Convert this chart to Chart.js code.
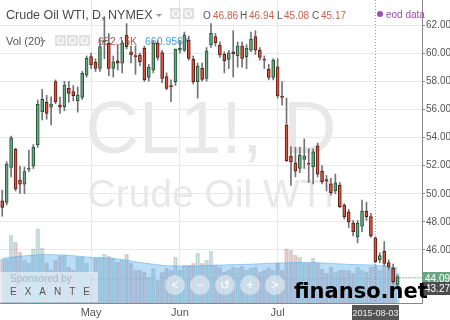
<!DOCTYPE html>
<html>
<head>
<meta charset="utf-8">
<script src="https://cdn.jsdelivr.net/npm/chart.js@4.4.0/dist/chart.umd.min.js"></script>
<style>
html, body { margin: 0; padding: 0; background: #fff; }
#c { display: block; }
</style>
</head>
<body>
<canvas id="c" width="450" height="320"></canvas>
<script>
// trading days, 2015
const aprDays = [2, 6, 7, 8, 9, 10, 13, 14, 15, 16, 17, 20, 21, 22, 23, 24, 27, 28, 29, 30];
const mayDays = [1, 4, 5, 6, 7, 8, 11, 12, 13, 14, 15, 18, 19, 20, 21, 22, 26, 27, 28, 29];
const junDays = [1, 2, 3, 4, 5, 8, 9, 10, 11, 12, 15, 16, 17, 18, 19, 22, 23, 24, 25, 26, 29, 30];
const julDays = [1, 2, 6, 7, 8, 9, 10, 13, 14, 15, 16, 17, 20, 21, 22, 23, 24, 27, 28, 29, 30, 31];
const augDays = [3, 4, 5, 6, 7, 10];
const futureDays = [11, 12, 13, 14, 17]; // empty space right of last bar

const opens = [
    49.50, 49.39, 51.88, 53.16, 50.97, 50.69, 51.74, 51.97, 53.47, 55.83,
    56.50, 56.15, 57.97, 56.30, 56.19, 57.50, 57.26, 56.62, 56.86, 58.44,
    59.75, 59.35, 58.92, 60.80, 60.70, 58.92, 59.46, 59.28, 61.29, 60.10,
    59.80, 59.87, 60.34, 58.28, 58.80, 60.74, 60.04, 58.33, 57.70, 57.97,
    60.22, 60.22, 60.93, 59.56, 57.97, 58.92, 58.20, 60.58, 61.17, 60.58,
    59.92, 59.56, 60.10, 59.80, 60.50, 59.75, 60.22, 61.17, 60.22, 59.55,
    58.85, 58.28, 59.03, 56.90, 54.89, 52.68, 52.20, 51.80, 52.45, 52.14,
    51.92, 53.40, 51.60, 51.00, 50.70, 50.21, 50.62, 49.20, 48.72, 47.94,
    46.94, 47.70, 48.77, 48.37, 46.86, 45.30, 45.90, 45.10, 44.70, 43.55
];
const highs = [
    50.25, 52.28, 54.10, 53.25, 51.97, 51.90, 53.10, 53.50, 56.67, 57.43,
    57.00, 56.90, 58.10, 56.87, 58.00, 58.00, 57.70, 57.60, 58.70, 59.80,
    60.00, 59.60, 61.00, 62.60, 61.40, 59.80, 60.60, 60.90, 62.10, 60.50,
    60.50, 60.00, 60.50, 59.20, 60.90, 60.90, 60.20, 58.60, 58.10, 60.30,
    60.90, 61.50, 61.20, 59.80, 59.30, 59.30, 60.40, 62.10, 61.40, 60.80,
    60.10, 60.20, 61.60, 60.80, 60.80, 60.60, 61.50, 61.60, 60.40, 59.80,
    59.20, 59.60, 59.60, 57.97, 56.80, 53.35, 53.30, 53.30, 53.90, 53.20,
    53.20, 53.60, 52.00, 51.30, 51.10, 51.40, 50.80, 49.30, 48.90, 48.10,
    48.10, 49.55, 49.40, 48.60, 46.94, 45.80, 46.60, 45.30, 45.00, 44.20
];
const lows = [
    48.40, 49.20, 51.20, 50.20, 50.03, 50.00, 51.57, 51.80, 53.30, 55.24,
    55.30, 54.90, 56.40, 55.72, 55.90, 56.50, 56.60, 55.80, 56.70, 58.30,
    58.90, 58.70, 58.70, 59.60, 58.40, 58.30, 58.80, 58.60, 60.30, 59.30,
    58.50, 59.10, 58.00, 58.00, 58.60, 59.50, 57.90, 57.40, 56.55, 57.70,
    60.00, 60.10, 59.50, 57.80, 56.80, 58.00, 58.00, 60.40, 60.50, 59.70,
    58.60, 58.90, 58.30, 59.00, 59.00, 58.90, 60.10, 59.90, 59.50, 58.90,
    58.10, 58.10, 56.80, 56.30, 52.30, 50.60, 51.20, 51.50, 51.80, 50.80,
    50.70, 51.20, 50.70, 50.20, 49.90, 50.00, 49.00, 48.20, 47.60, 47.00,
    46.50, 47.30, 48.10, 46.90, 45.08, 45.10, 44.90, 44.60, 43.60, 43.40
];
const closes = [
    49.03, 52.11, 53.98, 50.34, 50.69, 51.57, 51.80, 53.30, 56.36, 56.72,
    55.72, 56.38, 56.55, 56.15, 57.73, 57.14, 56.97, 57.02, 58.56, 59.63,
    59.16, 58.92, 60.46, 60.90, 58.92, 59.39, 59.28, 60.74, 60.46, 59.90,
    59.75, 59.40, 58.09, 58.99, 60.70, 59.70, 58.20, 57.50, 57.62, 60.27,
    60.34, 61.29, 59.63, 57.97, 59.08, 58.14, 60.17, 61.41, 60.74, 59.87,
    59.46, 60.03, 59.94, 60.50, 59.63, 60.34, 60.98, 60.22, 59.70, 59.50,
    58.28, 59.51, 56.95, 56.85, 52.35, 52.27, 51.60, 52.75, 52.68, 52.10,
    52.99, 51.40, 50.85, 50.90, 50.07, 50.78, 49.08, 48.37, 48.00, 47.30,
    47.90, 48.77, 48.37, 47.00, 45.17, 45.60, 45.05, 44.77, 43.74, 44.09
];
// volume in thousands of contracts, with its 20-day average
const volumes = [
    766, 766, 1183, 1061, 887, 748, 696, 940, 1288, 957,
    696, 574, 748, 818, 835, 626, 574, 800, 800, 696,
    522, 783, 800, 853, 818, 783, 713, 748, 853, 696,
    574, 574, 539, 452, 609, 400, 539, 609, 574, 800,
    574, 661, 661, 696, 870, 696, 748, 905, 661, 626,
    539, 574, 626, 609, 644, 574, 609, 626, 539, 574,
    609, 574, 696, 574, 940, 922, 835, 800, 696, 696,
    783, 696, 592, 522, 626, 539, 574, 574, 574, 522,
    626, 574, 539, 626, 652.15, 574, 661, 574, 626, 522
];
const volumeMA = [
    780, 785, 795, 805, 815, 820, 825, 830, 840, 845,
    845, 840, 838, 835, 832, 828, 822, 815, 808, 800,
    795, 790, 785, 782, 780, 775, 765, 755, 745, 730,
    718, 705, 695, 685, 675, 665, 655, 650, 647, 645,
    643, 642, 642, 643, 645, 648, 652, 655, 658, 660,
    662, 664, 666, 668, 670, 672, 675, 678, 682, 686,
    690, 693, 695, 697, 700, 702, 704, 705, 705, 704,
    703, 700, 696, 692, 688, 684, 680, 676, 672, 669,
    667, 665, 663, 662, 660.956, 650, 640, 630, 620, 610
];
const priceTicks = [44, 46, 48, 50, 52, 54, 56, 58, 60, 62];
const monthTicks = { '2015-05-01': 'May', '2015-06-01': 'Jun', '2015-07-01': 'Jul' };
const crosshairDate = '2015-08-03';
const crosshairPrice = 43.27;

const pad = d => String(d).padStart(2, '0');
const dates = [].concat(
    aprDays.map(d => '2015-04-' + pad(d)),
    mayDays.map(d => '2015-05-' + pad(d)),
    junDays.map(d => '2015-06-' + pad(d)),
    julDays.map(d => '2015-07-' + pad(d)),
    augDays.map(d => '2015-08-' + pad(d))
);
const axisDates = dates.concat(futureDays.map(d => '2015-08-' + pad(d)));

const UP = '#6ba583', UP_LINE = '#225437', DOWN = '#d75442', DOWN_LINE = '#5b1a13', WICK = '#737375';
const isUp = i => closes[i] >= opens[i];
const FONT = '"Liberation Sans", Arial, sans-serif';

function fmt(v) { return v.toFixed(2); }

const decor = {
    id: 'decor',
    beforeDraw(chart) {
        const ctx = chart.ctx, a = chart.chartArea;
        const cx = (a.left + a.right) / 2;
        ctx.save();
        ctx.fillStyle = '#fff';
        ctx.fillRect(0, 0, chart.width, chart.height);
        // symbol watermark
        ctx.fillStyle = '#e8e8e8';
        ctx.textAlign = 'center';
        ctx.font = '74px ' + FONT;
        ctx.fillText('CL1!, D', cx, 153);
        ctx.font = '39px ' + FONT;
        ctx.fillText('Crude Oil WTI', cx, 207);
        ctx.restore();
    },
    beforeDatasetsDraw(chart) {
        const ctx = chart.ctx, a = chart.chartArea;
        const x = chart.scales.x;
        const k = dates.indexOf(crosshairDate);
        ctx.save();
        // header
        ctx.textAlign = 'left';
        ctx.font = '12.5px ' + FONT;
        ctx.fillStyle = '#4a4a4a';
        ctx.fillText('Crude Oil WTI, D, NYMEX', 6, 19);
        caret(ctx, 159, 15);
        boxes(ctx, [170, 183], 8);
        const ohlc = [['O', opens[k], 203, 213], ['H', highs[k], 240, 249], ['L', lows[k], 277, 284], ['C', closes[k], 312, 321]];
        ctx.font = '10px ' + FONT;
        ohlc.forEach(([l, v, lx, vx]) => {
            ctx.fillStyle = '#555';
            ctx.fillText(l, lx, 19);
            ctx.fillStyle = closes[k] >= opens[k] ? UP : '#c95f4f';
            ctx.fillText(fmt(v), vx, 19);
        });
        ctx.font = '11px ' + FONT;
        ctx.fillStyle = '#555';
        ctx.fillText('Vol (20)', 6, 45);
        caret(ctx, 43, 41);
        boxes(ctx, [55, 67, 79], 35);
        ctx.font = '10.5px ' + FONT;
        ctx.fillStyle = '#b5544c';
        ctx.fillText(volumes[k].toFixed(2) + 'K', 98, 45);
        ctx.fillStyle = '#4aa3df';
        ctx.fillText(volumeMA[k].toFixed(3) + 'K', 145, 45);
        // crosshair
        const cxp = Math.round(x.getPixelForValue(k)) + 0.5;
        ctx.strokeStyle = '#9a9a9a';
        ctx.setLineDash([1, 2]);
        ctx.lineWidth = 1;
        ctx.beginPath();
        ctx.moveTo(cxp, a.top);
        ctx.lineTo(cxp, a.bottom);
        ctx.stroke();
        ctx.setLineDash([]);
        // data source tag
        ctx.fillStyle = '#9b4fb0';
        ctx.beginPath();
        ctx.arc(380, 14, 3, 0, Math.PI * 2);
        ctx.fill();
        ctx.font = '10px ' + FONT;
        ctx.fillText('eod data', 386, 18);
        ctx.restore();
    },
    afterDraw(chart) {
        const ctx = chart.ctx, a = chart.chartArea;
        const x = chart.scales.x, y = chart.scales.y;
        const last = closes.length - 1;
        const k = dates.indexOf(crosshairDate);
        ctx.save();
        // last price line and label
        const ly = Math.round(y.getPixelForValue(closes[last])) + 0.5;
        ctx.strokeStyle = UP;
        ctx.setLineDash([1, 2]);
        ctx.beginPath();
        ctx.moveTo(x.getPixelForValue(last) + 2, ly);
        ctx.lineTo(a.right, ly);
        ctx.stroke();
        ctx.setLineDash([]);
        axisTag(ctx, a.right, ly, fmt(closes[last]), isUp(last) ? UP : DOWN);
        axisTag(ctx, a.right, y.getPixelForValue(crosshairPrice), fmt(crosshairPrice), '#4d4d4d');
        // crosshair date
        const dx = Math.round(x.getPixelForValue(k));
        ctx.fillStyle = '#555';
        ctx.fillRect(dx - 23, a.bottom + 2, 47, 15);
        ctx.fillStyle = '#eee';
        ctx.font = '9px ' + FONT;
        ctx.textAlign = 'center';
        ctx.fillText(crosshairDate, dx + 0.5, a.bottom + 13);
        // sponsor box
        ctx.fillStyle = 'rgba(255,255,255,0.55)';
        ctx.fillRect(0, 272, 98, 30);
        ctx.textAlign = 'left';
        ctx.fillStyle = '#a9b5c0';
        ctx.font = '10px ' + FONT;
        ctx.fillText('Sponsored by', 10, 282);
        ctx.fillStyle = '#555';
        ctx.letterSpacing = '8px';
        ctx.fillText('EXANTE', 10, 295);
        ctx.letterSpacing = '0px';
        // navigation buttons
        ['<', '−', '↺', '+', '>'].forEach((g, i) => {
            const bx = 175 + i * 25, by = 285;
            ctx.fillStyle = 'rgba(236,238,241,0.6)';
            ctx.beginPath();
            ctx.arc(bx, by, 10, 0, Math.PI * 2);
            ctx.fill();
            ctx.fillStyle = '#fff';
            ctx.font = '12px ' + FONT;
            ctx.textAlign = 'center';
            ctx.fillText(g, bx, by + 4);
        });
        // site stamp
        ctx.textAlign = 'left';
        ctx.font = 'bold 21px "DejaVu Sans", sans-serif';
        ctx.fillStyle = '#000';
        ctx.fillText('finanso.net', 294, 298);
        ctx.restore();
    }
};

function caret(ctx, x, y) {
    ctx.fillStyle = '#999';
    ctx.beginPath();
    ctx.moveTo(x - 3, y - 1);
    ctx.lineTo(x + 3, y - 1);
    ctx.lineTo(x, y + 2);
    ctx.fill();
}

function boxes(ctx, xs, y) {
    xs.forEach(bx => {
        ctx.fillStyle = '#e0e0e0';
        ctx.fillRect(bx, y, 11, 11);
        ctx.strokeStyle = '#fff';
        ctx.lineWidth = 1.2;
        ctx.beginPath();
        ctx.arc(bx + 5.5, y + 5.5, 3, 0, Math.PI * 2);
        ctx.stroke();
    });
}

function axisTag(ctx, x, yc, text, bg) {
    ctx.fillStyle = bg;
    ctx.fillRect(x, Math.round(yc) - 6, 28, 13);
    ctx.fillStyle = '#fff';
    ctx.font = '10px ' + FONT;
    ctx.textAlign = 'left';
    ctx.fillText(text, x + 3, Math.round(yc) + 4);
}

new Chart(document.getElementById('c'), {
    type: 'bar',
    data: {
        labels: axisDates,
        datasets: [{
            type: 'bar',
            label: 'Body',
            data: opens.map((o, i) => [o, closes[i]]),
            backgroundColor: opens.map((o, i) => isUp(i) ? UP : DOWN),
            borderColor: opens.map((o, i) => isUp(i) ? UP_LINE : DOWN_LINE),
            borderWidth: 1,
            borderSkipped: false,
            barThickness: 3,
            minBarLength: 1,
            grouped: false,
            yAxisID: 'y',
            order: 0
        }, {
            type: 'bar',
            label: 'Wick',
            data: lows.map((l, i) => [l, highs[i]]),
            backgroundColor: WICK,
            barThickness: 1,
            grouped: false,
            yAxisID: 'y',
            order: 1
        }, {
            type: 'line',
            label: 'Vol MA',
            data: volumeMA,
            borderColor: 'rgba(75,165,235,0.5)',
            backgroundColor: 'rgba(75,165,235,0.38)',
            borderWidth: 1,
            pointRadius: 0,
            fill: 'start',
            yAxisID: 'yv',
            order: 2
        }, {
            type: 'bar',
            label: 'Volume',
            data: volumes,
            backgroundColor: volumes.map((v, i) => isUp(i) ? 'rgba(107,165,131,0.28)' : 'rgba(215,84,66,0.28)'),
            borderColor: 'rgba(60,110,150,0.22)',
            borderWidth: 1,
            borderSkipped: 'start',
            barThickness: 4,
            grouped: false,
            yAxisID: 'yv',
            order: 3
        }]
    },
    options: {
        responsive: false,
        devicePixelRatio: 1,
        animation: false,
        layout: { padding: 0 },
        plugins: { legend: { display: false }, tooltip: { enabled: false } },
        scales: {
            x: {
                type: 'category',
                offset: true,
                grid: { offset: false, color: '#e6e6e6', drawTicks: false },
                border: { color: '#888' },
                ticks: {
                    autoSkip: false,
                    maxRotation: 0,
                    padding: 3,
                    color: '#555',
                    font: { size: 11, family: FONT },
                    callback(v) { return monthTicks[this.getLabelForValue(v)] || ''; }
                },
                afterBuildTicks(s) { s.ticks = s.ticks.filter(t => monthTicks[axisDates[t.value]]); },
                afterFit(s) { s.height = 17; s.paddingLeft = 0; s.paddingRight = 0; }
            },
            y: {
                position: 'right',
                min: 42.23,
                max: 63.78,
                grid: { color: '#e9e9e9', tickLength: 3, tickColor: '#888' },
                border: { color: '#888' },
                ticks: {
                    padding: 1,
                    color: '#555',
                    font: { size: 10, family: FONT },
                    callback: v => fmt(v)
                },
                afterBuildTicks(s) { s.ticks = priceTicks.map(v => ({ value: v })); },
                afterFit(s) { s.width = 28; s.paddingTop = 0; s.paddingBottom = 0; }
            },
            yv: { display: false, min: 0, max: 5270 }
        }
    },
    plugins: [decor]
});
</script>
</body>
</html>
